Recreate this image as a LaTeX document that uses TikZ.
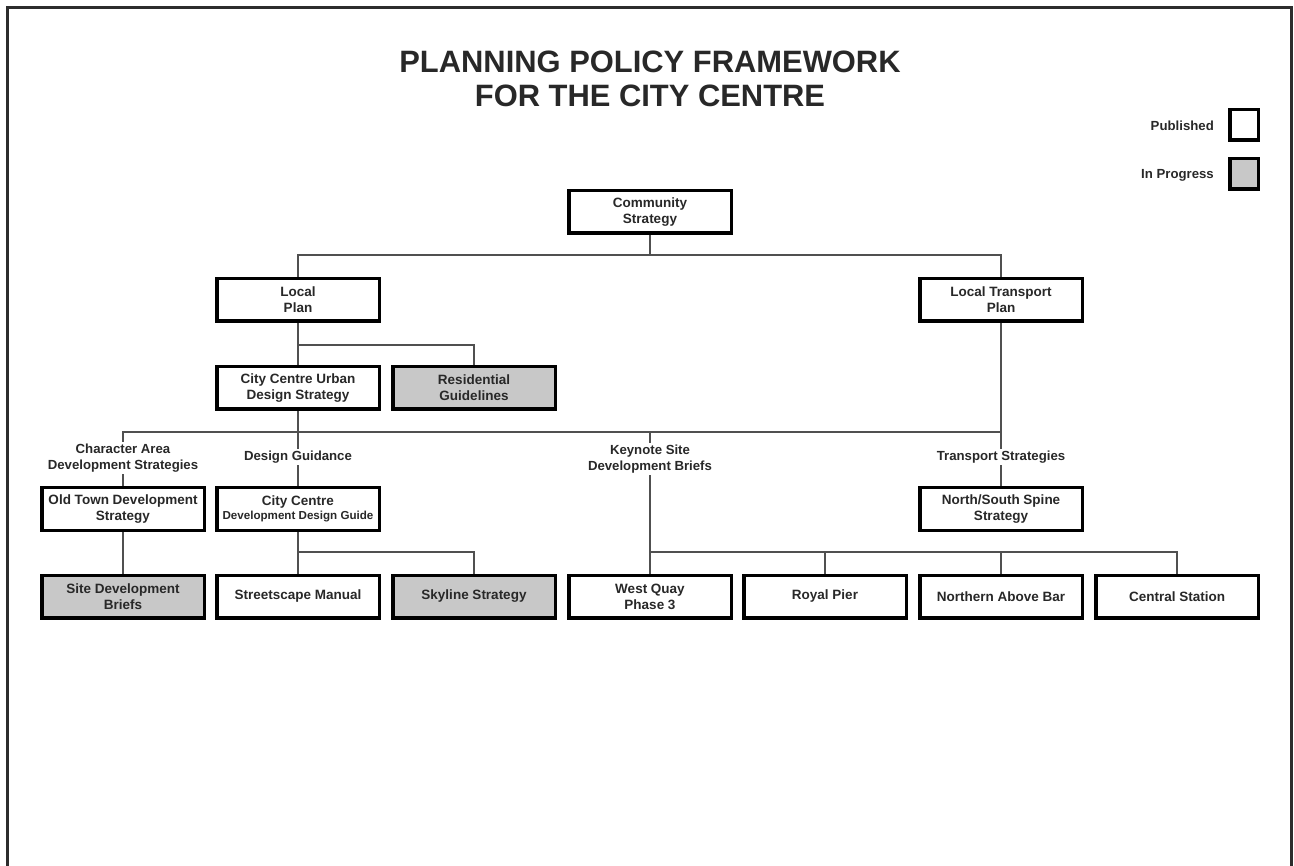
\documentclass[tikz,border=0pt]{standalone}
\usepackage{fontspec}
\setmainfont{Liberation Sans}
\definecolor{inkframe}{RGB}{45,45,45}
\definecolor{inktext}{RGB}{40,40,40}
\definecolor{linkgray}{RGB}{80,80,80}
\definecolor{progress}{RGB}{200,200,200}
\begin{document}
\begin{tikzpicture}[x=1pt,y=-1pt,
  doc/.style={draw=black,line width=3.5pt,fill=white,minimum width=162.5pt,minimum height=42.5pt,
    inner sep=2pt,align=center,text=inktext,font=\fontsize{13.5}{16}\selectfont\bfseries},
  docwip/.style={doc,fill=progress},
  grouplabel/.style={align=center,inner sep=2pt,text=inktext,font=\fontsize{13.2}{16}\selectfont\bfseries},
  keybox/.style={draw=black,line width=3.5pt,minimum width=28.5pt,minimum height=30.5pt,inner sep=0pt},
  keytext/.style={anchor=east,inner sep=0pt,text=inktext,font=\fontsize{13.2}{15}\selectfont\bfseries},
  link/.style={draw=linkgray,line width=1.8pt}]
\useasboundingbox (0,0) rectangle (1294,866);
% page frame, open at the bottom
\draw[inkframe,line width=3pt] (7.5,870) -- (7.5,8) -- (1291.5,8) -- (1291.5,870);

% title
\node[align=center,text=inktext,font=\fontsize{30.9}{34}\selectfont\bfseries] (title) at (650,79)
  {PLANNING POLICY FRAMEWORK\\FOR THE CITY CENTRE};

% key
\node[keybox,fill=white] (keypub) at (1244,125) {};
\node[keybox,fill=progress] (keywip) at (1244,174) {};
\node[keytext] (keypubtxt) at (1214,126) {Published};
\node[keytext] (keywiptxt) at (1214,175) {In Progress};

% documents
\node[doc] (cs) at (650,212) {Community\\Strategy};
\node[doc] (lp) at (298,300) {Local\\Plan};
\node[doc] (ltp) at (1001,300) {Local Transport\\Plan};
\node[doc] (ccuds) at (298,388) {City Centre Urban\\Design Strategy};
\node[docwip] (rg) at (474,388) {Residential\\Guidelines};
\node[doc] (otds) at (123,509) {Old Town Development\\Strategy};
\node[doc] (ccddg) at (298,509) {City Centre\\[-2pt]{\fontsize{11.6}{13}\selectfont Development Design Guide}};
\node[doc] (nss) at (1001,509) {North/South Spine\\Strategy};
\node[docwip] (sdb) at (123,596.5) {Site Development\\Briefs};
\node[doc] (sm) at (298,596.5) {Streetscape Manual};
\node[docwip] (ss) at (474,596.5) {Skyline Strategy};
\node[doc] (wq) at (650,596.5) {West Quay\\Phase 3};
\node[doc] (rp) at (825,596.5) {Royal Pier};
\node[doc] (nab) at (1001,596.5) {Northern Above Bar};
\node[doc] (cst) at (1177,596.5) {Central Station};

% group headings
\node[grouplabel] (gchar) at (123,458) {Character Area\\Development Strategies};
\node[grouplabel] (gdesign) at (298,457) {Design Guidance};
\node[grouplabel] (gkey) at (650,459) {Keynote Site\\Development Briefs};
\node[grouplabel] (gtrans) at (1001,457) {Transport Strategies};

% junctions of the tree
\coordinate (jtop) at (650,255);
\coordinate (jlp) at (298,345);
\coordinate (jmid) at (298,432);
\coordinate (jdg) at (298,552);
\coordinate (jkey) at (650,552);

% connectors
\draw[link] (cs.south) -- (jtop);
\draw[link] (lp.north) -- (lp.north |- jtop) -- (ltp.north |- jtop) -- (ltp.north);
\draw[link] (lp.south) -- (ccuds.north);
\draw[link] (jlp) -- (rg.north |- jlp) -- (rg.north);
\draw[link] (ccuds.south) -- (jmid);
\draw[link] (gchar.north) -- (gchar.north |- jmid) -- (ltp.south |- jmid);
\draw[link] (ltp.south) -- (gtrans.north);
\draw[link] (jmid) -- (gdesign.north);
\draw[link] (gkey.north) -- (gkey.north |- jmid);
\draw[link] (gchar.south) -- (otds.north);
\draw[link] (gdesign.south) -- (ccddg.north);
\draw[link] (gtrans.south) -- (nss.north);
\draw[link] (otds.south) -- (sdb.north);
\draw[link] (ccddg.south) -- (sm.north);
\draw[link] (jdg) -- (ss.north |- jdg) -- (ss.north);
\draw[link] (gkey.south) -- (wq.north);
\draw[link] (jkey) -- (cst.north |- jkey) -- (cst.north);
\draw[link] (rp.north |- jkey) -- (rp.north);
\draw[link] (nab.north |- jkey) -- (nab.north);
\end{tikzpicture}
\end{document}
